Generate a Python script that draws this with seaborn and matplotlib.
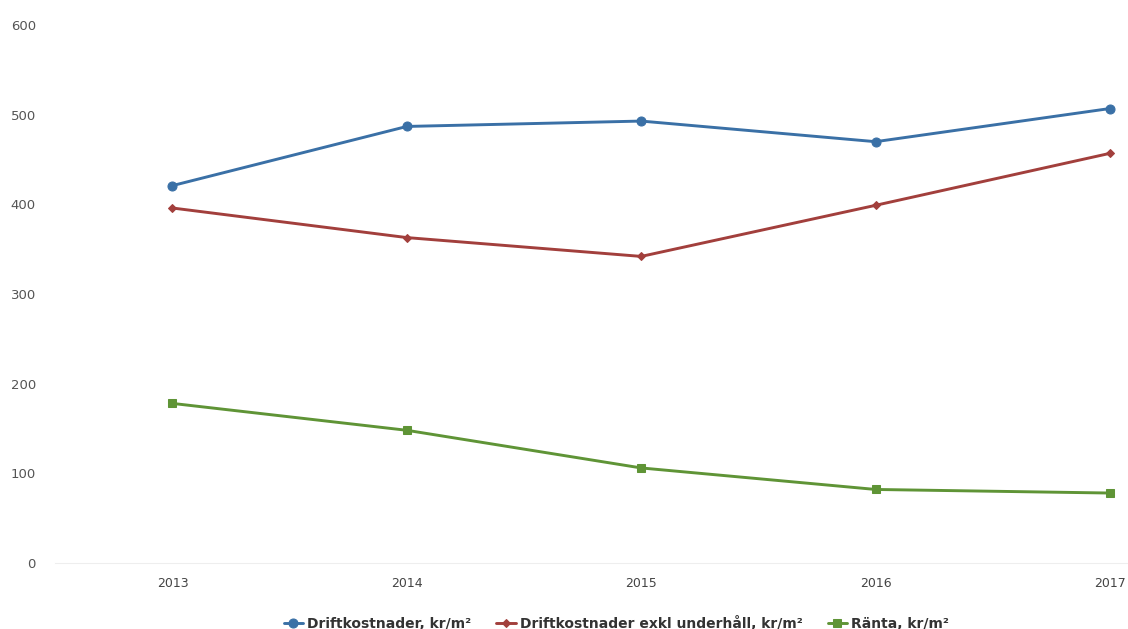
import matplotlib
matplotlib.use("Agg")
import matplotlib.pyplot as plt
import seaborn as sns
import pandas as pd

years = ["2013", "2014", "2015", "2016", "2017"]
drift = [421, 487, 493, 470, 507]
drift_exkl = [396, 363, 342, 399, 457]
ranta = [178, 148, 106, 82, 78]

series_names = ["Driftkostnader, kr/m²", "Driftkostnader exkl underhåll, kr/m²", "Ränta, kr/m²"]
colors = ["#3a70a6", "#a23f3c", "#5f9436"]
markers = ["o", "D", "s"]
marker_sizes = [6.5, 4.5, 6]

df = pd.DataFrame({
    "Year": years * 3,
    "x": list(range(len(years))) * 3,
    "Value": drift + drift_exkl + ranta,
    "Serie": [series_names[0]] * 5 + [series_names[1]] * 5 + [series_names[2]] * 5,
})

sns.set_style("white")
fig = plt.figure(figsize=(11.28, 6.29), dpi=100)
ax = fig.add_axes([0.049, 0.105, 0.951, 0.855])

for name, col, mk, ms in zip(series_names, colors, markers, marker_sizes):
    sub = df[df["Serie"] == name]
    sns.lineplot(data=sub, x="x", y="Value", ax=ax, color=col, marker=mk,
                 markersize=ms, markeredgecolor=col, linewidth=2.1, label=name)

ax.set_xlim(-0.5, 4.077)
ax.set_ylim(0, 600)
ax.set_yticks(range(0, 601, 100))
ax.set_xticks(range(len(years)))
ax.set_xticklabels(years)
ax.set_xlabel("")
ax.set_ylabel("")
ax.tick_params(axis="y", labelsize=9.5, colors="#555555", length=0, pad=14)
ax.tick_params(axis="x", labelsize=9, colors="#444444", length=0, pad=10)
for s in ["top", "right", "left"]:
    ax.spines[s].set_visible(False)
ax.spines["bottom"].set_color("#eeeeee")
ax.grid(False)

leg = ax.legend(loc="upper center", bbox_to_anchor=(0.523, -0.075), ncol=3,
                frameon=False, fontsize=10, handlelength=1.4, columnspacing=1.8,
                handletextpad=0.3)
for t in leg.get_texts():
    t.set_fontweight("bold")
    t.set_color("#333333")

fig.savefig("out.png", dpi=100)
